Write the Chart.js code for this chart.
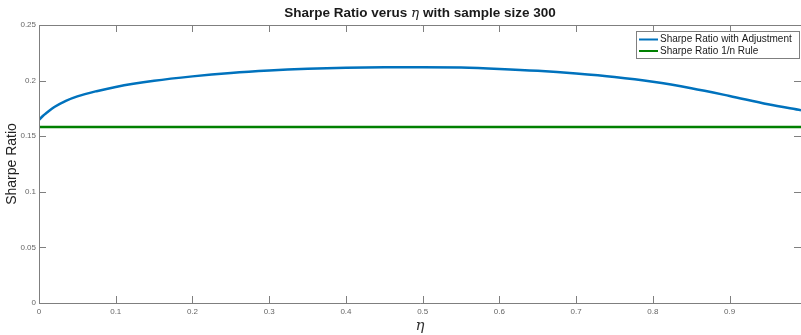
<!DOCTYPE html>
<html>
<head>
<meta charset="utf-8">
<script src="https://cdn.jsdelivr.net/npm/chart.js@4.4.0/dist/chart.umd.min.js"></script>
<style>
	body{margin:0;background:#fff;}
	#caja{width:801px;height:335px;position:relative;}
</style>
</head>
<body>
<div id="caja"><canvas id="canva"></canvas></div>
<script>
// valores
let eta = [0, 0.005, 0.01, 0.02, 0.035, 0.05, 0.075, 0.1, 0.15, 0.2, 0.25, 0.3, 0.35, 0.4, 0.45, 0.5, 0.55, 0.6, 0.65, 0.7, 0.75, 0.8, 0.85, 0.9, 0.95, 0.993];
let sharpe_ajuste = [0.1646, 0.1682, 0.1710, 0.1762, 0.1818, 0.1858, 0.1905, 0.1943, 0.1998, 0.2038, 0.2069, 0.2091, 0.2106, 0.2115, 0.2120, 0.2121, 0.2117, 0.2105, 0.2088, 0.2064, 0.2033, 0.1990, 0.1932, 0.1862, 0.1788, 0.1734];
let eta_regla = [0, 0.993];
let sharpe_regla = [0.1583, 0.1583];
let etiquetas = ['Sharpe Ratio with Adjustment', 'Sharpe Ratio 1/n Rule'];
let y_ticks = [0, 0.05, 0.1, 0.15, 0.2, 0.25];
let x_ticks = [0, 0.1, 0.2, 0.3, 0.4, 0.5, 0.6, 0.7, 0.8, 0.9];

const gris = '#7f7f7f';

// ticks hacia adentro, caja, titulo y leyenda (estilo matlab)
const extras = {
	id:'extras',
	afterDraw(chart){
		let c = chart.ctx;
		let a = chart.chartArea;
		let sx = chart.scales.x, sy = chart.scales.y;
		c.save();
		c.strokeStyle = gris;
		c.lineWidth = 1;
		c.beginPath();
		c.moveTo(a.left+0.5, a.top+0.5);
		c.lineTo(a.right, a.top+0.5);
		c.moveTo(a.left+0.5, a.top);
		c.lineTo(a.left+0.5, a.bottom+0.5);
		c.lineTo(a.right, a.bottom+0.5);
		x_ticks.forEach(v=>{
			let px = Math.round(sx.getPixelForValue(v))+0.5;
			c.moveTo(px, a.bottom); c.lineTo(px, a.bottom-7);
			c.moveTo(px, a.top); c.lineTo(px, a.top+7);
		});
		y_ticks.forEach(v=>{
			let py = Math.round(sy.getPixelForValue(v))+0.5;
			c.moveTo(a.left, py); c.lineTo(a.left+7, py);
			c.moveTo(a.right, py); c.lineTo(a.right-7, py);
		});
		c.stroke();

		// titulo con eta en cursiva
		let partes = [
			{t:'Sharpe Ratio verus ', f:'bold 13.5px Arial'},
			{t:'η', f:'italic 13.5px "DejaVu Serif"'},
			{t:' with sample size 300', f:'bold 13.5px Arial'}
		];
		let ancho = 0;
		partes.forEach(p=>{ c.font = p.f; p.w = c.measureText(p.t).width; ancho += p.w; });
		let x0 = (a.left + a.right)/2 - ancho/2;
		c.fillStyle = '#1a1a1a';
		c.textBaseline = 'middle';
		c.textAlign = 'left';
		partes.forEach(p=>{ c.font = p.f; c.fillText(p.t, x0, 13); x0 += p.w; });

		// leyenda
		let lx = 636, ly = 31, lw = 163, lh = 27;
		c.fillStyle = '#fff';
		c.fillRect(lx, ly, lw, lh);
		c.strokeStyle = gris;
		c.strokeRect(lx+0.5, ly+0.5, lw, lh);
		c.font = '10px Arial';
		chart.data.datasets.forEach((d,i)=>{
			let yy = ly + 8.5 + i*11.5;
			c.strokeStyle = d.borderColor;
			c.lineWidth = 2;
			c.beginPath(); c.moveTo(lx+3, yy); c.lineTo(lx+22, yy); c.stroke();
			c.fillStyle = '#1a1a1a';
			c.fillText(d.label, lx+24, yy);
		});
		c.restore();
	}
};

const ctx = document.getElementById('canva').getContext('2d');
const grafico = new Chart(ctx, {
	type:'line',
	data:{
		datasets:[{
			label: etiquetas[0],
			data: eta.map((v,i)=>({x:v, y:sharpe_ajuste[i]})),
			borderColor:'#0072BD',
			borderWidth:2.5,
			pointRadius:0,
			cubicInterpolationMode:'monotone'
		},{
			label: etiquetas[1],
			data: eta_regla.map((v,i)=>({x:v, y:sharpe_regla[i]})),
			borderColor:'#008000',
			borderWidth:2.5,
			pointRadius:0
		}]
	},
	options:{
		responsive:true,
		maintainAspectRatio:false,
		animation:false,
		layout:{padding:{top:25, right:0, left:0, bottom:0}},
		plugins:{legend:{display:false}, title:{display:false}, tooltip:{enabled:false}},
		scales:{
			x:{
				type:'linear', min:0, max:0.993,
				grid:{display:false, drawTicks:false, tickLength:0}, border:{display:false},
				afterFit: s=>{ s.height = 32; },
				afterBuildTicks: s=>{ s.ticks = x_ticks.map(v=>({value:v})); },
				ticks:{font:{size:8, family:'Arial'}, color:'#666', padding:4, maxRotation:0,
					callback: v=>String(parseFloat(v.toFixed(2)))},
				title:{display:true, text:'η', font:{size:15, style:'italic', family:'DejaVu Serif'}, color:'#333', padding:{top:0, bottom:0}}
			},
			y:{
				min:0, max:0.25,
				grid:{display:false, drawTicks:false, tickLength:0}, border:{display:false},
				afterFit: s=>{ s.width = 39; },
				afterBuildTicks: s=>{ s.ticks = y_ticks.map(v=>({value:v})); },
				ticks:{font:{size:8, family:'Arial'}, color:'#666', padding:3,
					callback: v=>String(parseFloat(v.toFixed(2)))},
				title:{display:true, text:'Sharpe Ratio', font:{size:14, family:'Arial'}, color:'#222', padding:{top:4, bottom:0}}
			}
		}
	},
	plugins:[extras]
});
</script>
</body>
</html>
